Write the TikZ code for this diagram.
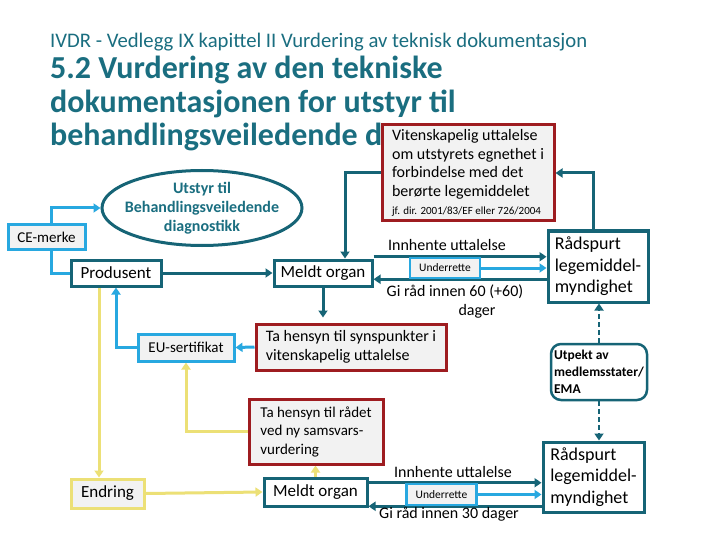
\documentclass[tikz,border=0pt]{standalone}
\usepackage{fontspec}
\setmainfont{Carlito}
\usetikzlibrary{arrows.meta,shapes.geometric,calc}
\definecolor{tealtxt}{RGB}{26,110,128}
\definecolor{tealln}{RGB}{22,100,118}
\definecolor{lblue}{RGB}{40,168,224}
\definecolor{dred}{RGB}{158,28,32}
\definecolor{ylw}{RGB}{236,224,118}
\definecolor{boxgray}{RGB}{242,242,242}
\pgfdeclarelayer{bg}\pgfsetlayers{bg,main}
\begin{document}
\begin{tikzpicture}[x=1pt,y=-1pt,
  box/.style={draw, line width=3pt, inner sep=0pt, font=\fontsize{17}{20}\selectfont},
  tealbox/.style={box, draw=tealln, fill=white},
  bluebox/.style={box, draw=lblue, fill=boxgray},
  ylwbox/.style={box, draw=ylw, fill=boxgray},
  redbox/.style={draw=dred, line width=3pt, fill=boxgray, inner sep=0pt, align=left},
  lbl/.style={inner sep=0pt, font=\fontsize{16}{19}\selectfont},
  tip/.style={-{Triangle[length=7pt,width=9pt]}},
  tconn/.style={draw=tealln, line width=3pt, tip},
  bconn/.style={draw=lblue, line width=3pt, tip},
  bline/.style={draw=lblue, line width=3pt},
  yconn/.style={draw=ylw, line width=3pt, tip},
  dconn/.style={draw=tealln, line width=2.5pt, dash pattern=on 5pt off 3pt, tip}
]
\begin{pgfonlayer}{bg}
\fill[white] (0,0) rectangle (720,540);
\end{pgfonlayer}
\useasboundingbox (0,0) rectangle (720,540);

% titles
\node[anchor=base west, inner sep=0pt, text=tealtxt, font=\fontsize{20.7}{22}\selectfont] (sub) at (50,48)
  {IVDR - Vedlegg IX kapittel II Vurdering av teknisk dokumentasjon};
\node[anchor=base west, inner sep=0pt, align=left, text=tealtxt, font=\bfseries\fontsize{32}{33.5}\selectfont] (title) at (50,146)
  {5.2 Vurdering av den tekniske\\dokumentasjonen for utstyr til\\behandlingsveiledende d};

% nodes
\node[redbox, minimum width=172, minimum height=96, font=\fontsize{16}{18.5}\selectfont] (vit) at (468,173)
  {Vitenskapelig uttalelse\\om utstyrets egnethet i\\forbindelse med det\\berørte legemiddelet\\{\fontsize{11}{12}\selectfont jf. dir. 2001/83/EF eller 726/2004}};

\node[ellipse, draw=tealln, line width=3pt, fill=white, minimum width=200, minimum height=75, inner sep=0pt] (ell) at (202,208) {};
\node[align=center, inner sep=0pt, text=tealtxt, font=\bfseries\fontsize{16}{19}\selectfont] (elltxt) at (ell.center)
  {Utstyr til\\Behandlingsveiledende\\diagnostikk};

\node[bluebox, minimum width=77, minimum height=24, font=\fontsize{15}{18}\selectfont] (ce) at (46.5,237) {CE-merke};
\node[tealbox, minimum width=90, minimum height=26] (prod) at (116,273) {Produsent};
\node[tealbox, minimum width=98, minimum height=26] (mo1) at (323,273) {Meldt organ};
\node[tealbox, minimum width=100, minimum height=71, align=left, font=\fontsize{18}{21.5}\selectfont] (rad1) at (598,266.5)
  {Rådspurt\\legemiddel-\\myndighet};
\node[bluebox, line width=2.5pt, minimum width=70, minimum height=20, font=\fontsize{11.5}{13}\selectfont] (und1) at (445,268) {Underrette};

\node[redbox, minimum width=190, minimum height=46, font=\fontsize{16}{18.5}\selectfont] (ta1) at (351,347)
  {Ta hensyn til synspunkter i\\vitenskapelig uttalelse};
\node[bluebox, minimum width=96, minimum height=27, font=\fontsize{15}{18}\selectfont] (eu) at (186,347.5) {EU-sertifikat};

\node[draw=tealln, line width=2.5pt, rounded corners=10pt, fill=white, minimum width=96, minimum height=56, align=left, inner sep=0pt, font=\bfseries\fontsize{13.5}{17}\selectfont] (utp) at (599,372)
  {Utpekt av\\medlemsstater/\\EMA};

\node[redbox, minimum width=134, minimum height=65, font=\fontsize{15}{18.5}\selectfont] (ta2) at (316,431.5)
  {Ta hensyn til rådet\\ved ny samsvars-\\vurdering};

\node[ylwbox, minimum width=73, minimum height=29] (endr) at (107.5,493.5) {Endring};
\node[tealbox, minimum width=103, minimum height=28] (mo2) at (315.5,492) {Meldt organ};
\node[tealbox, minimum width=101, minimum height=70, align=left, font=\fontsize{18}{21.5}\selectfont] (rad2) at (593.5,477)
  {Rådspurt\\legemiddel-\\myndighet};
\node[bluebox, line width=2.5pt, minimum width=70, minimum height=21, font=\fontsize{11.5}{13}\selectfont] (und2) at (441.5,494.5) {Underrette};

% labels
\node[lbl] (innh1) at (447,245) {Innhente uttalelse};
\node[lbl] (gi1) at (455,292) {Gi råd innen 60 (+60)};
\node[lbl] (dag1) at (477,311) {dager};
\node[lbl] (innh2) at (453,472) {Innhente uttalelse};
\node[lbl] (gi2) at (449,514) {Gi råd innen 30 dager};

% connectors
\begin{pgfonlayer}{bg}
\draw[bconn] ([xshift=5pt]ce.north) |- (ell.west);
\draw[bline] ([xshift=5pt]ce.south) |- (prod.west);
\draw[tconn] (prod.east) -- (mo1.west);
\draw[tconn] (vit.west) -| ([xshift=22pt]mo1.north);
\draw[tconn, shorten >=5pt] (mo1.south) -- (mo1.south |- ta1.north);
\draw[bconn] (ta1.west) -- (eu.east);
\draw[bconn] (eu.west) -| (prod.south);
\draw[yconn] ([xshift=-17pt]prod.south) -- ([xshift=-17pt]prod.south |- endr.north);
\draw[yconn] (ta2.west) -| (eu.south);
\draw[yconn] (endr.east) -- (mo2.west);
\draw[yconn] (mo2.north) -- (mo2.north |- ta2.south);
\draw[tconn] (mo1.east |- und1.north) -- (rad1.west |- und1.north);
\draw[tconn] (rad1.west |- und1.south) -- (mo1.east |- und1.south);
\draw[bconn] (und1.east) -- (rad1.west |- und1.east);
\draw[tconn] ([xshift=-5pt]rad1.north) |- (vit.east);
\draw[dconn] (utp.north) -- (utp.north |- rad1.south);
\draw[dconn] (utp.south) -- (utp.south |- rad2.north);
\draw[tconn] (mo2.east |- und2.north) -- (rad2.west |- und2.north);
\draw[tconn] (rad2.west |- und2.south) -- (mo2.east |- und2.south);
\draw[bconn] (und2.east) -- (rad2.west |- und2.east);
\end{pgfonlayer}
\end{tikzpicture}
\end{document}
